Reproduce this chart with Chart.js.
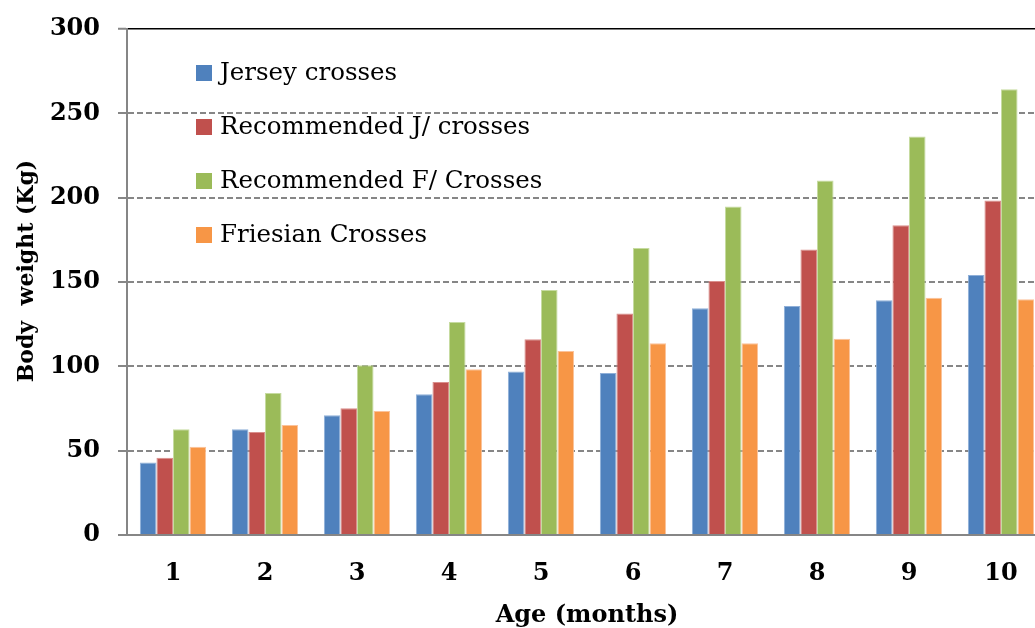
<!DOCTYPE html>
<html>
<head>
<meta charset="utf-8">
<script src="https://cdn.jsdelivr.net/npm/chart.js@4.4.0/dist/chart.umd.min.js"></script>
<style>
  html, body { margin: 0; padding: 0; background: #fff; overflow: hidden; width: 1035px; height: 628px; }
  #wrap { position: absolute; left: 0; top: 0; width: 1060px; height: 628px; }
</style>
</head>
<body>
<div id="wrap"><canvas id="c" width="1060" height="628"></canvas></div>
<script>
const categories = ['1', '2', '3', '4', '5', '6', '7', '8', '9', '10'];
const seriesNames = ['Jersey crosses', 'Recommended J/ crosses', 'Recommended F/ Crosses', 'Friesian Crosses'];
const jerseyCrosses      = [43, 62.7, 71, 83.5, 97, 96, 134.4, 135.8, 139.2, 154.2];
const recommendedJ       = [45.8, 61, 75.1, 90.7, 116.1, 131.3, 150.6, 169.2, 183.7, 198.3];
const recommendedF       = [62.7, 84.2, 100.7, 126.3, 145.3, 170.2, 194.7, 210.2, 236.2, 264.3];
const friesianCrosses    = [52.3, 65.2, 73.5, 98.3, 109.1, 113.7, 113.7, 116.3, 140.6, 139.8];
const yTicks = [0, 50, 100, 150, 200, 250, 300];
const xTitle = 'Age (months)';
const yTitle = 'Body  weight (Kg)';

const fills   = ['#4F81BD', '#C0504D', '#9BBB59', '#F79646'];
const edges   = ['#8FAFD8', '#DA8F8C', '#C6DBA0', '#FBC29A'];
const values  = [jerseyCrosses, recommendedJ, recommendedF, friesianCrosses];

const legendPlugin = {
  id: 'insideLegend',
  afterDraw(chart) {
    const ctx = chart.ctx;
    ctx.save();
    ctx.font = '24.5px "DejaVu Serif"';
    ctx.textBaseline = 'middle';
    ctx.textAlign = 'left';
    chart.data.datasets.forEach((ds, i) => {
      const cy = 73 + i * 54;
      ctx.fillStyle = ds.backgroundColor;
      ctx.fillRect(196, cy - 8, 16, 16);
      ctx.fillStyle = '#000';
      ctx.fillText(ds.label, 220, cy + 1);
    });
    // y axis title
    ctx.translate(27, 271);
    ctx.rotate(-Math.PI / 2);
    ctx.font = 'bold 22px "DejaVu Serif"';
    ctx.textAlign = 'center';
    ctx.textBaseline = 'middle';
    ctx.fillText(yTitle, 0, 0);
    ctx.restore();
  }
};

new Chart(document.getElementById('c'), {
  type: 'bar',
  data: {
    labels: categories,
    datasets: seriesNames.map((name, i) => ({
      label: name,
      data: values[i],
      backgroundColor: fills[i],
      borderColor: edges[i],
      borderWidth: { left: 1, right: 1, top: 1, bottom: 0 },
      borderSkipped: 'bottom',
      barPercentage: 1.0,
      categoryPercentage: 0.72
    }))
  },
  options: {
    responsive: false,
    animation: false,
    layout: { padding: { left: 0, right: 13, top: 29, bottom: 0 } },
    plugins: {
      legend: { display: false },
      tooltip: { enabled: false }
    },
    scales: {
      x: {
        grid: { display: false, drawTicks: false },
        border: { display: true, color: '#868686', width: 2 },
        ticks: {
          color: '#000',
          font: { family: 'DejaVu Serif', size: 24, weight: 'bold' },
          padding: 24,
          maxRotation: 0
        },
        title: {
          display: true,
          text: xTitle,
          color: '#000',
          font: { family: 'DejaVu Serif', size: 24, weight: 'bold' },
          padding: { top: 0, bottom: -2 }
        },
        afterFit(scale) { scale.height = 93; scale.paddingLeft = 0; scale.paddingRight = 0; }
      },
      y: {
        min: 0,
        max: 300,
        afterBuildTicks(scale) { scale.ticks = yTicks.map(v => ({ value: v })); },
        grid: {
          color: c => (c.tick && c.tick.value === 300) ? '#000000' : '#868686',
          lineWidth: c => (c.tick && c.tick.value === 300) ? 1.5 : 2,
          tickLength: 9,
          tickColor: '#868686',
          tickWidth: 2
        },
        border: {
          display: true,
          color: '#868686',
          width: 2,
          dash: c => (c.tick && (c.tick.value === 300 || c.tick.value === 0)) ? [] : [6, 3]
        },
        ticks: {
          color: '#000',
          font: { family: 'DejaVu Serif', size: 24, weight: 'bold' },
          padding: 18
        },
        title: { display: false },
        afterFit(scale) { scale.width = 127; scale.paddingTop = 0; scale.paddingBottom = 0; }
      }
    }
  },
  plugins: [legendPlugin]
});
</script>
</body>
</html>
